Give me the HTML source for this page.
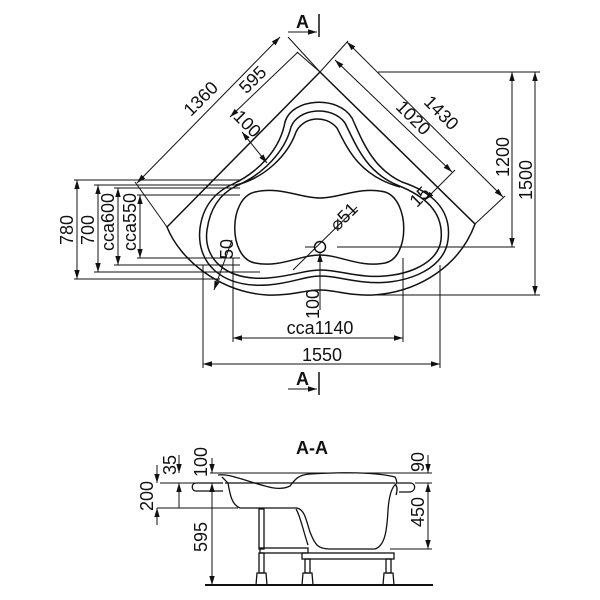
<!DOCTYPE html>
<html><head><meta charset="utf-8"><style>
html,body{margin:0;padding:0;background:#fff}
svg{display:block}
text{font-family:"Liberation Sans",sans-serif;font-size:18px;fill:#111}
</style></head><body>
<svg width="600" height="600" viewBox="0 0 600 600" xmlns="http://www.w3.org/2000/svg">
<defs>
<marker id="a" viewBox="0 0 10 10" refX="10" refY="5" markerWidth="9" markerHeight="9" orient="auto-start-reverse" markerUnits="userSpaceOnUse"><path d="M0,2 L10,5 L0,8 Z" fill="#111"/></marker>
</defs>
<g fill="none" stroke="#111" stroke-width="1.5">
<path d="M167,227 L320,72 L475,224 C460,265 420,292 373,295 C350,296 335,290 320,290 C305,290 290,296 267,295 C220,292 180,260 167,227 Z"/>
<path d="M233,184 C258,172 280,150 285,122 C292,98 338,95 352,118 C362,140 372,168 402,182 C432,192 452,210 448,240 C444,272 400,286 365,282 C345,280 335,276 320,276 C305,276 293,283 268,285 C220,288 196,262 200,228 C203,206 215,192 233,184"/>
<path d="M236,186 C262,175 285,152 291,127 C298,108 332,105 345,123 C356,145 366,172 397,185 C425,196 444,212 441,240 C438,266 400,279 366,276 C345,274 335,270 320,270 C305,270 293,276 268,278 C225,281 203,258 207,230 C210,208 220,194 236,186"/>
<path d="M236,185 C265,178 288,155 296,132 C303,117 325,114 337,128 C348,150 360,176 400,187"/>
<path d="M255,192 C280,186 300,198 320,198 C340,198 360,186 385,192 C410,200 410,258 385,263 C360,268 340,255 320,255 C300,255 280,268 255,263 C228,258 228,198 255,192 Z"/>
<circle cx="320" cy="247" r="5.5"/>
</g>
<g fill="none" stroke="#111" stroke-width="1">
<line x1="137" y1="183" x2="280" y2="37" marker-start="url(#a)" marker-end="url(#a)"/>
<line x1="230" y1="117" x2="298" y2="52" marker-start="url(#a)"/>
<line x1="242" y1="132" x2="267" y2="163" marker-start="url(#a)" marker-end="url(#a)"/>
<line x1="288" y1="37" x2="320" y2="72"/>
<line x1="297" y1="52" x2="320" y2="72"/>
<line x1="135" y1="182" x2="167" y2="227"/>
<line x1="347" y1="42" x2="503" y2="197" marker-start="url(#a)" marker-end="url(#a)"/>
<line x1="335" y1="60" x2="452" y2="172" marker-start="url(#a)" marker-end="url(#a)"/>
<line x1="348" y1="41" x2="320" y2="72"/>
<line x1="505" y1="196" x2="475" y2="224"/>
<line x1="455" y1="170" x2="425" y2="200" marker-end="url(#a)"/>
<line x1="378" y1="72" x2="540" y2="72"/>
<line x1="337" y1="247" x2="515" y2="247"/>
<line x1="373" y1="295" x2="540" y2="295"/>
<line x1="512" y1="72" x2="512" y2="247" marker-start="url(#a)" marker-end="url(#a)"/>
<line x1="535" y1="72" x2="535" y2="295" marker-start="url(#a)" marker-end="url(#a)"/>
<line x1="74" y1="180" x2="240" y2="180"/>
<line x1="94" y1="185" x2="240" y2="185"/>
<line x1="114" y1="188" x2="240" y2="188"/>
<line x1="137" y1="195" x2="240" y2="195"/>
<line x1="137" y1="258" x2="240" y2="258"/>
<line x1="114" y1="265" x2="240" y2="265"/>
<line x1="94" y1="272" x2="260" y2="272"/>
<line x1="74" y1="279" x2="220" y2="279"/>
<line x1="77" y1="180" x2="77" y2="279" marker-start="url(#a)" marker-end="url(#a)"/>
<line x1="98" y1="185" x2="98" y2="272" marker-start="url(#a)" marker-end="url(#a)"/>
<line x1="118" y1="188" x2="118" y2="265" marker-start="url(#a)" marker-end="url(#a)"/>
<line x1="140" y1="195" x2="140" y2="258" marker-start="url(#a)" marker-end="url(#a)"/>
<line x1="203" y1="265" x2="203" y2="368"/>
<line x1="440" y1="265" x2="440" y2="368"/>
<line x1="233" y1="258" x2="233" y2="342"/>
<line x1="403" y1="258" x2="403" y2="342"/>
<line x1="233" y1="338" x2="403" y2="338" marker-start="url(#a)" marker-end="url(#a)"/>
<line x1="203" y1="364" x2="440" y2="364" marker-start="url(#a)" marker-end="url(#a)"/>
<line x1="320" y1="310" x2="320" y2="253" marker-end="url(#a)"/>
<line x1="232" y1="240" x2="214" y2="290" marker-end="url(#a)"/>
<line x1="293" y1="270" x2="357" y2="207"/>
<line x1="305" y1="247" x2="314" y2="247"/>
<line x1="288" y1="32" x2="317" y2="32" marker-end="url(#a)"/>
<line x1="319" y1="14" x2="319" y2="37" stroke-width="1.5"/>
<line x1="288" y1="389" x2="317" y2="389" marker-end="url(#a)"/>
<line x1="319" y1="372" x2="319" y2="395" stroke-width="1.5"/>
</g>
<g>
<text x="296" y="28" font-weight="bold">A</text>
<text x="296" y="385" font-weight="bold">A</text>
<text transform="translate(205,103) rotate(-45)" text-anchor="middle">1360</text>
<text transform="translate(257,84) rotate(-45)" text-anchor="middle">595</text>
<text transform="translate(243,128) rotate(45)" text-anchor="middle">100</text>
<text transform="translate(437,117) rotate(45)" text-anchor="middle">1430</text>
<text transform="translate(409,122) rotate(45)" text-anchor="middle">1020</text>
<text transform="translate(424,201) rotate(-45)" text-anchor="middle">15</text>
<text transform="translate(348,221) rotate(-45)" text-anchor="middle">⌀51</text>
<text transform="translate(233,249) rotate(-90)" text-anchor="middle">50</text>
<text transform="translate(319,304) rotate(-90)" text-anchor="middle">100</text>
<text transform="translate(509,157) rotate(-90)" text-anchor="middle">1200</text>
<text transform="translate(532,180) rotate(-90)" text-anchor="middle">1500</text>
<text transform="translate(73,230) rotate(-90)" text-anchor="middle">780</text>
<text transform="translate(94,230) rotate(-90)" text-anchor="middle">700</text>
<text transform="translate(114,222) rotate(-90)" text-anchor="middle">cca600</text>
<text transform="translate(136,222) rotate(-90)" text-anchor="middle">cca550</text>
<text x="320" y="334" text-anchor="middle">cca1140</text>
<text x="322" y="361" text-anchor="middle">1550</text>
</g>
<text x="312" y="454" text-anchor="middle" font-weight="bold">A-A</text>
<g fill="none" stroke="#111" stroke-width="1.3">
<line x1="205" y1="585" x2="433" y2="585" stroke-width="2"/>
<path d="M223,483 L196,483 C191,483 191,491 196,491 L223,491"/>
<path d="M397,483 L411,483 C416,484 416,491 410,492 L399,492"/>
<path d="M218,475 C225,474 232,476 245,480 C270,488 280,491 290,486 C295,480 297,475 310,474 C340,472 375,472 395,477 C397,480 397,482 396,484"/>
<path d="M222,477 L228,483 C230,495 232,505 240,508 L297,508 C305,510 306,520 310,532 C315,545 318,549 330,549 L375,549 C385,546 387,530 388,510 C389,496 392,487 396,484"/>
<path d="M225,483 L395,483"/>
<path d="M395,484 C398,487 397,492 396,495"/>
<path d="M296,509 C300,515 303,530 308,545"/>
<rect x="259" y="509" width="5" height="40"/>
<rect x="260" y="548" width="48" height="5"/>
<rect x="302" y="553" width="92" height="6"/>
<rect x="259" y="553" width="5" height="20"/>
<path d="M257,573 L266,573 L267,585 L256,585 Z"/>
<rect x="305" y="559" width="5" height="14"/>
<path d="M303,573 L312,573 L313,585 L302,585 Z"/>
<rect x="386" y="559" width="5" height="14"/>
<path d="M384,573 L393,573 L394,585 L383,585 Z"/>
</g>
<g fill="none" stroke="#111" stroke-width="1">
<line x1="160" y1="483" x2="195" y2="483"/>
<line x1="157" y1="508" x2="238" y2="508"/>
<line x1="210" y1="473" x2="432" y2="473"/>
<line x1="415" y1="483" x2="432" y2="483"/>
<line x1="390" y1="549" x2="432" y2="549"/>
<line x1="157" y1="465" x2="157" y2="483" marker-end="url(#a)"/>
<line x1="157" y1="525" x2="157" y2="508" marker-end="url(#a)"/>
<line x1="179" y1="455" x2="179" y2="473" marker-end="url(#a)"/>
<line x1="179" y1="508" x2="179" y2="483" marker-end="url(#a)"/>
<line x1="212" y1="458" x2="212" y2="473" marker-end="url(#a)"/>
<line x1="212" y1="500" x2="212" y2="483" marker-end="url(#a)"/>
<line x1="212" y1="483" x2="212" y2="585" marker-end="url(#a)"/>
<line x1="428" y1="455" x2="428" y2="473" marker-end="url(#a)"/>
<line x1="428" y1="483" x2="428" y2="549" marker-start="url(#a)" marker-end="url(#a)"/>
</g>
<g>
<text transform="translate(153,496) rotate(-90)" text-anchor="middle">200</text>
<text transform="translate(176,465) rotate(-90)" text-anchor="middle">35</text>
<text transform="translate(207,462) rotate(-90)" text-anchor="middle">100</text>
<text transform="translate(207,537) rotate(-90)" text-anchor="middle">595</text>
<text transform="translate(424,462) rotate(-90)" text-anchor="middle">90</text>
<text transform="translate(424,512) rotate(-90)" text-anchor="middle">450</text>
</g>
</svg>
</body></html>
